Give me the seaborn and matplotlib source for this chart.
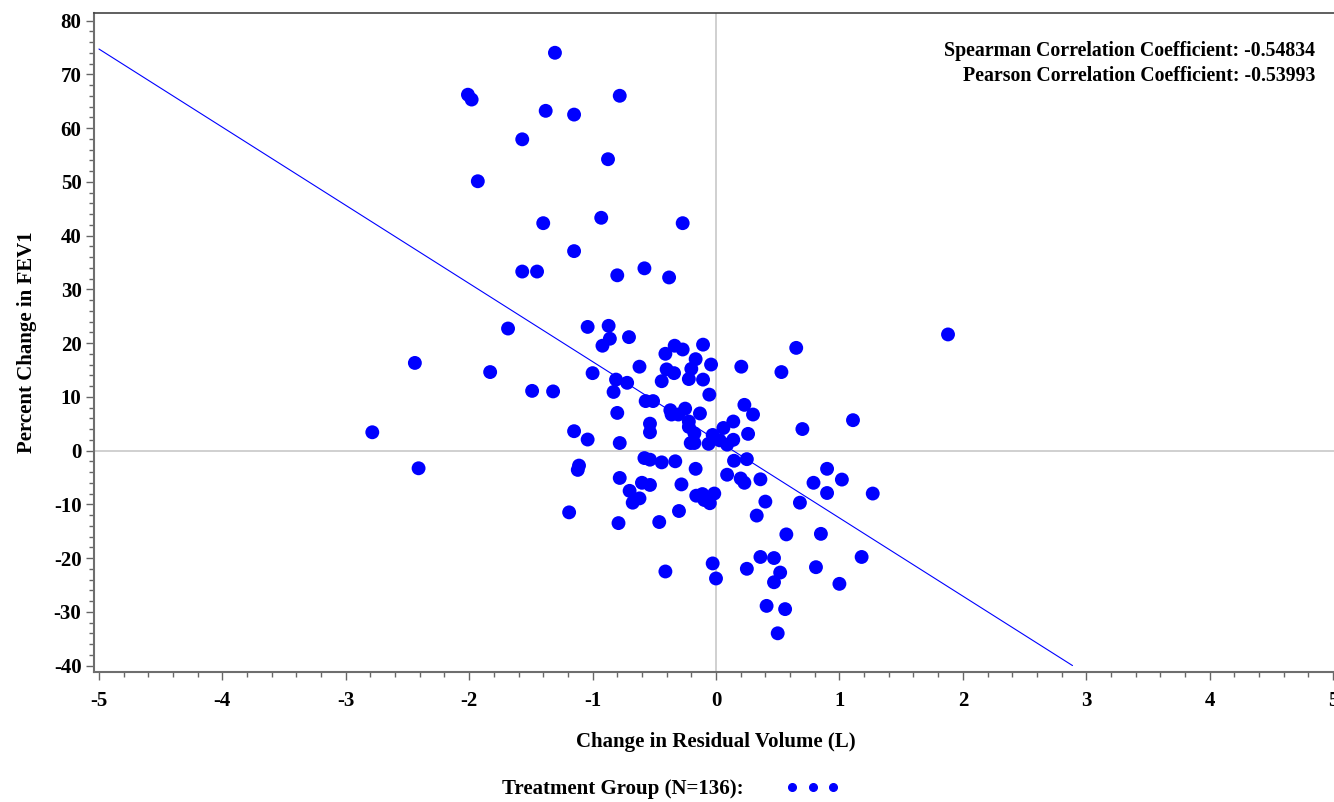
import numpy as np
import pandas as pd
import matplotlib
matplotlib.use("Agg")
import matplotlib.pyplot as plt
from matplotlib.lines import Line2D
import seaborn as sns

# Change in residual volume (L) and percent change in FEV1
rv_change = [
    -1.305, -2.01, -1.98, -0.78, -1.38, -1.15, -1.57, -0.875, -1.93, -1.40,
    -0.93, -0.27, -1.15, -1.57, -1.45, -0.80, -0.58, -0.38,
    -1.685, -2.44, -1.83, -1.49, -1.32, -2.785, -1.15, -2.41, -1.11, -1.12, -1.19,
    -1.04, -0.87, -0.86, -0.92, -0.705, -0.105, -0.335, -0.27, -0.41, -0.165,
    -0.04, 0.205, -0.62, -1.00, -0.40, -0.34, -0.20, -0.22, -0.105, -0.44,
    -0.81, -0.72, -0.83, -0.054, -0.57, -0.51, 0.23, 0.30, -0.37, -0.36,
    -0.305, -0.25, -0.13, -0.80, -0.535, -0.535, -0.22, -0.22, -0.175, 0.14,
    0.06, 0.26, -1.04, -0.78, -0.205, -0.175, -0.06, -0.027, 0.03, 0.09, 0.14,
    -0.58, -0.535, -0.44, -0.33, 0.146, 0.25, -0.165, 0.09, 0.20, 0.23,
    0.36, -0.78, -0.60, -0.535, -0.28, -0.70, -0.62, -0.675, -0.16, -0.11,
    -0.095, -0.05, -0.014, 0.40, 0.68, -0.79, -0.46, -0.30, 0.33, 0.57,
    0.36, 0.47, 0.52, 0.47, 0.25, -0.027, 0.0, -0.41, 0.41, 0.56, 0.50,
    1.88, 0.65, 0.53, 0.70, 1.11, 0.90, 1.02, 0.79, 0.90, 1.27, 0.85, 1.18,
    0.81, 1.00,
]
fev1_pct = [
    74.0, 66.2, 65.3, 66.0, 63.2, 62.5, 57.9, 54.2, 50.1, 42.3,
    43.3, 42.3, 37.1, 33.3, 33.3, 32.6, 33.9, 32.2,
    22.7, 16.3, 14.6, 11.1, 11.0, 3.4, 3.6, -3.3, -2.8, -3.6, -11.5,
    23.0, 23.2, 20.8, 19.5, 21.1, 19.7, 19.5, 18.8, 18.0, 17.0,
    16.0, 15.6, 15.6, 14.4, 15.1, 14.4, 15.2, 13.3, 13.2, 12.9,
    13.2, 12.6, 10.9, 10.4, 9.2, 9.2, 8.5, 6.7, 7.5, 6.7,
    6.7, 7.8, 6.9, 7.0, 5.0, 3.4, 5.4, 4.4, 3.2, 5.4,
    4.2, 3.1, 2.05, 1.4, 1.4, 1.4, 1.25, 2.9, 1.9, 1.1, 2.0,
    -1.4, -1.7, -2.2, -2.0, -1.9, -1.6, -3.4, -4.5, -5.2, -6.0,
    -5.35, -5.1, -6.0, -6.4, -6.3, -7.5, -8.9, -9.7, -8.4, -8.1,
    -9.2, -9.8, -8.0, -9.5, -9.7, -13.5, -13.3, -11.25, -12.1, -15.6,
    -19.8, -20.0, -22.7, -24.5, -22.0, -21.0, -23.8, -22.5, -28.9, -29.5, -34.0,
    21.6, 19.1, 14.6, 4.0, 5.65, -3.4, -5.4, -6.0, -7.9, -8.0, -15.5, -19.8,
    -21.7, -24.8,
]

# fitted line as shown on the chart
fit_intercept = 2.0
fit_slope = -14.54

spearman_r = "-0.54834"
pearson_r = "-0.53993"
group_label = "Treatment Group (N=136):"

x_ticks = [-5, -4, -3, -2, -1, 0, 1, 2, 3, 4, 5]
y_ticks = [-40, -30, -20, -10, 0, 10, 20, 30, 40, 50, 60, 70, 80]

df = pd.DataFrame({"rv": rv_change, "fev1": fev1_pct})

sns.set_style("ticks")
plt.rcParams['font.family'] = ['Liberation Serif', 'DejaVu Serif']
plt.rcParams['font.weight'] = 'bold'
plt.rcParams['axes.labelweight'] = 'bold'
plt.rcParams['axes.unicode_minus'] = False
plt.rcParams['text.color'] = 'black'
plt.rcParams['axes.labelcolor'] = 'black'
plt.rcParams['xtick.labelcolor'] = 'black'
plt.rcParams['ytick.labelcolor'] = 'black'

fig = plt.figure(figsize=(13.34, 8.02), dpi=100)
ax = fig.add_axes([94 / 1334, 130 / 802, 1244 / 1334, 659 / 802])

# reference lines at zero
ax.axhline(0, color='#c8c8c8', lw=1.2, zorder=1)
ax.axvline(0, color='#c8c8c8', lw=1.2, zorder=1)

# regression line, from the left edge down to the bottom tick
x_end = (-40 - fit_intercept) / fit_slope
line_x = np.array([-5.0, x_end])
ax.plot(line_x, fit_intercept + fit_slope * line_x, color='#0000ff', lw=0.8, zorder=2)

sns.scatterplot(data=df, x='rv', y='fev1', ax=ax, color='#0000ff', s=100,
                edgecolor='none', linewidth=0, zorder=3, legend=False)

ax.set_xlim(-5.04, 5.04)
ax.set_ylim(-41.2, 81.4)
ax.set_xticks(x_ticks)
ax.set_yticks(y_ticks)
ax.set_xticks(np.arange(-5, 5.01, 0.2), minor=True)
ax.set_yticks(np.arange(-40, 80.1, 2), minor=True)
ax.tick_params(which='major', length=6, width=1.0, color='#666666', labelsize=15, pad=3)
ax.tick_params(axis='x', which='major', pad=8)
ax.tick_params(which='minor', length=3.5, width=1.0, color='#666666')
for lbl in ax.get_xticklabels() + ax.get_yticklabels():
    lbl.set_fontweight('bold')

for side in ['left', 'bottom']:
    ax.spines[side].set_color('#6e6e6e')
    ax.spines[side].set_linewidth(1.5)
ax.spines['top'].set_color('#444444')
ax.spines['top'].set_linewidth(1.2)
ax.spines['right'].set_color('#444444')

ax.set_xlabel('Change in Residual Volume (L)', fontsize=15, fontweight='bold', labelpad=15)
ax.set_ylabel('Percent Change in FEV1', fontsize=15, fontweight='bold', labelpad=12)

ax.text(1315 / 1334, 1 - 51 / 802, f"Spearman Correlation Coefficient: {spearman_r}",
        transform=fig.transFigure, ha='right', va='center', fontsize=14.3, fontweight='bold')
ax.text(1315 / 1334, 1 - 76 / 802, f"Pearson Correlation Coefficient: {pearson_r}",
        transform=fig.transFigure, ha='right', va='center', fontsize=14.3, fontweight='bold')

handle = Line2D([], [], color='#0000ff', marker='o', linestyle='none', markersize=5.5)
fig.legend([handle], [group_label], loc='center', bbox_to_anchor=(0.503, 1 - 789 / 802),
           frameon=False, markerfirst=False, numpoints=3, handlelength=2.6,
           handletextpad=2.0, prop={'size': 15, 'weight': 'bold'})

fig.savefig('out.png', dpi=100)
